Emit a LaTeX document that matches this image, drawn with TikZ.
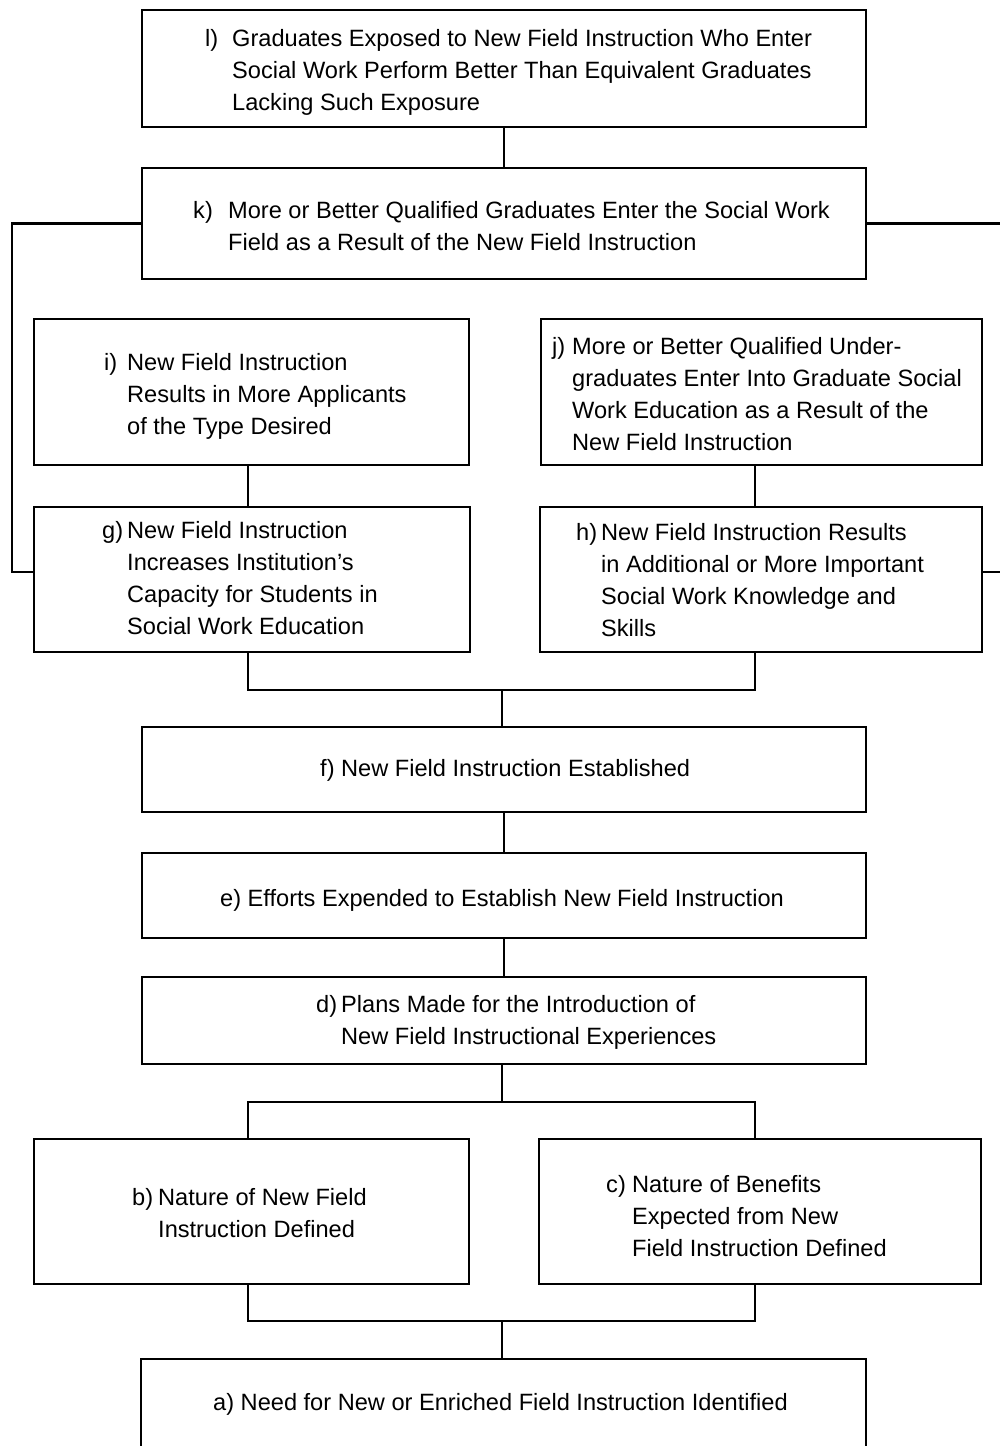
\documentclass[tikz,border=0pt]{standalone}
\usepackage{fontspec}
\setmainfont{Liberation Sans}

% two-column block: item letter in a fixed-width column, then lines with a hanging indent
\newcommand{\hangtext}[2][25pt]{\begin{tabular}{@{}p{#1}@{}l@{}}#2\end{tabular}}

\tikzset{
  box/.style={draw, line width=2.6pt, inner sep=0pt, rectangle},
  wire/.style={line width=2.2pt, line join=miter},
  txt/.style={inner sep=0pt, anchor=west, font=\fontsize{23.6}{32}\selectfont, align=left}
}

\begin{document}
\begin{tikzpicture}[x=1pt, y=-1pt]
\path[fill=white, use as bounding box] (0,0) rectangle (1000,1446);
\clip (0,0) rectangle (1000,1446);

% boxes
\node[box, minimum width=724pt, minimum height=117pt] (l) at (504,68.5) {};
\node[box, minimum width=724pt, minimum height=111pt] (k) at (504,223.5) {};
\node[box, minimum width=435pt, minimum height=146pt] (i) at (251.5,392) {};
\node[box, minimum width=441pt, minimum height=146pt] (j) at (761.5,392) {};
\node[box, minimum width=436pt, minimum height=145pt] (g) at (252,579.5) {};
\node[box, minimum width=442pt, minimum height=145pt] (h) at (761,579.5) {};
\node[box, minimum width=724pt, minimum height=85pt] (f) at (504,769.5) {};
\node[box, minimum width=724pt, minimum height=85pt] (e) at (504,895.5) {};
\node[box, minimum width=724pt, minimum height=87pt] (d) at (504,1020.5) {};
\node[box, minimum width=435pt, minimum height=145pt] (b) at (251.5,1211.5) {};
\node[box, minimum width=442pt, minimum height=145pt] (c) at (760,1211.5) {};
\node[box, minimum width=725pt, minimum height=91pt] (a) at (503.5,1404.5) {};

% texts
\node[txt] (lt) at (205,72) {\hangtext[27pt]{l) & Graduates Exposed to New Field Instruction Who Enter\\
 & Social Work Perform Better Than Equivalent Graduates\\ & Lacking Such Exposure}};
\node[txt] (kt) at (193,228) {\hangtext[35pt]{k) & More or Better Qualified Graduates Enter the Social Work\\
 & Field as a Result of the New Field Instruction}};
\node[txt] (it) at (104,396) {\hangtext[23pt]{i) & New Field Instruction\\ & Results in More Applicants\\ & of the Type Desired}};
\node[txt] (jt) at (552,396) {\hangtext[20pt]{j) & More or Better Qualified Under-\\ & graduates Enter Into Graduate Social\\
 & Work Education as a Result of the\\ & New Field Instruction}};
\node[txt] (gt) at (102,580) {\hangtext{g) & New Field Instruction\\ & Increases Institution's\\ & Capacity for Students in\\ & Social Work Education}};
\node[txt] (ht) at (576,582) {\hangtext{h) & New Field Instruction Results\\ & in Additional or More Important\\ & Social Work Knowledge and\\ & Skills}};
\node[txt] (ft) at (320,770) {f) New Field Instruction Established};
\node[txt] (et) at (220,900) {e) Efforts Expended to Establish New Field Instruction};
\node[txt] (dt) at (316,1022) {\hangtext{d) & Plans Made for the Introduction of\\ & New Field Instructional Experiences}};
\node[txt] (bt) at (132,1215) {\hangtext[26pt]{b) & Nature of New Field\\ & Instruction Defined}};
\node[txt] (ct) at (606,1218) {\hangtext[26pt]{c) & Nature of Benefits\\ & Expected from New\\ & Field Instruction Defined}};
\node[txt] (at) at (213,1404) {a) Need for New or Enriched Field Instruction Identified};

% routing coordinates
\coordinate (colL) at (248,0);
\coordinate (colR) at (755,0);
\coordinate (loopL) at (12,0);
\coordinate (gl) at (34,572);
\coordinate (kr) at (1000,223.5);
\coordinate (hr) at (1000,572);
\coordinate (hub1) at (502,690);
\coordinate (hub2) at (502,1102);
\coordinate (hub3) at (502,1321);

% connectors
\draw[wire] (l.south) -- (k.north);
\draw[wire] (k.west) -| (loopL |- gl) -- (g.west |- gl);
\draw[wire] (k.east) -- (kr);
\draw[wire] (h.east |- hr) -- (hr);
\draw[wire] (i.south -| colL) -- (g.north -| colL);
\draw[wire] (j.south -| colR) -- (h.north -| colR);
\draw[wire] (g.south -| colL) |- (hub1) -| (h.south -| colR);
\draw[wire] (hub1) -- (f.north -| hub1);
\draw[wire] (f.south) -- (e.north);
\draw[wire] (e.south) -- (d.north);
\draw[wire] (d.south -| hub2) -- (hub2);
\draw[wire] (b.north -| colL) |- (hub2) -| (c.north -| colR);
\draw[wire] (b.south -| colL) |- (hub3) -| (c.south -| colR);
\draw[wire] (hub3) -- (a.north -| hub3);
\end{tikzpicture}
\end{document}
